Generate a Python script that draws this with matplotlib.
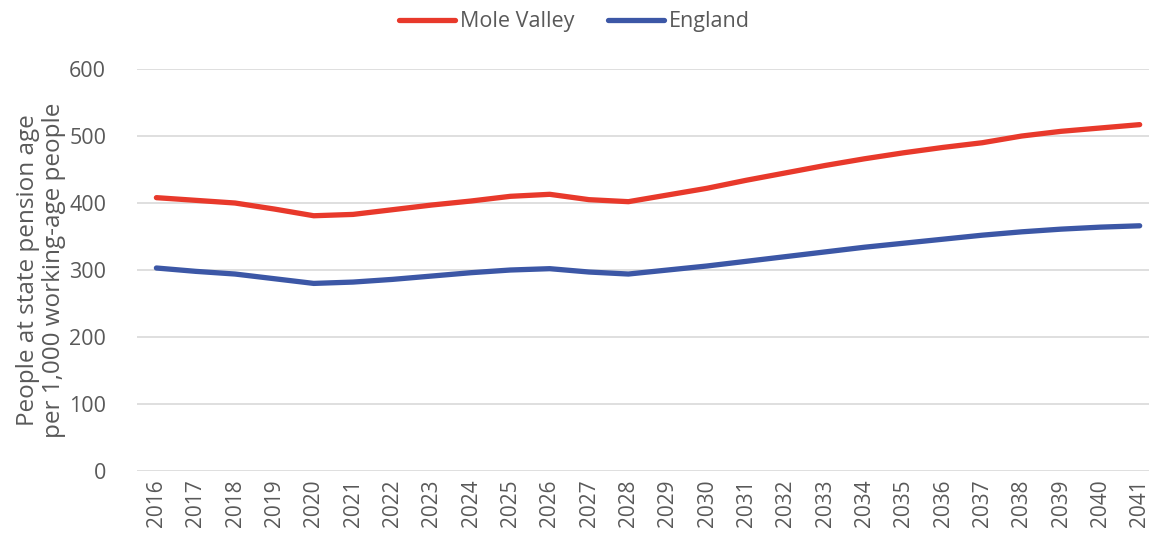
import matplotlib.pyplot as plt

# Old-age dependency ratio projections
years = [str(y) for y in range(2016, 2042)]
mole_valley = [408, 404, 400, 391, 381, 383, 390, 397, 403, 410, 413, 405, 402,
               412, 422, 434, 445, 456, 466, 475, 483, 490, 500, 507, 512, 517]
england = [303, 298, 294, 287, 280, 282, 286, 291, 296, 300, 302, 297, 294,
           300, 306, 313, 320, 327, 334, 340, 346, 352, 357, 361, 364, 366]

plt.rcParams['font.family'] = ['Open Sans', 'DejaVu Sans']
text_col = '#595959'

fig = plt.figure(figsize=(11.49, 5.41), dpi=100)
ax = fig.add_axes([0.119, 0.1294, 0.89, 0.743])

x = range(len(years))
ax.plot(x, mole_valley, color='#E8392B', lw=3.8, solid_capstyle='round', label='Mole Valley')
ax.plot(x, england, color='#3C57A6', lw=3.8, solid_capstyle='round', label='England')

ax.set_xlim(-0.5, len(years) - 0.5)
ax.set_ylim(0, 600)
ax.set_yticks(range(0, 601, 100))
ax.set_xticks(list(x))
ax.set_xticklabels(years, rotation=90)
ax.grid(axis='y', color='#D9D9D9', lw=1.2)
ax.set_axisbelow(True)
for s in ax.spines.values():
    s.set_visible(False)
ax.tick_params(length=0, labelsize=15, colors=text_col, pad=6)
ax.tick_params(axis='y', labelsize=15.5, pad=22)

ax.set_ylabel('People at state pension age\nper 1,000 working-age people',
              fontsize=17.5, color=text_col, labelpad=2, linespacing=1.15)

fig.legend(loc='upper center', bbox_to_anchor=(0.5, 1.015), ncol=2, frameon=False,
           fontsize=15.5, labelcolor=text_col, handlelength=2.6, handletextpad=0.2,
           columnspacing=1.6)

fig.savefig('out.png', dpi=100)
